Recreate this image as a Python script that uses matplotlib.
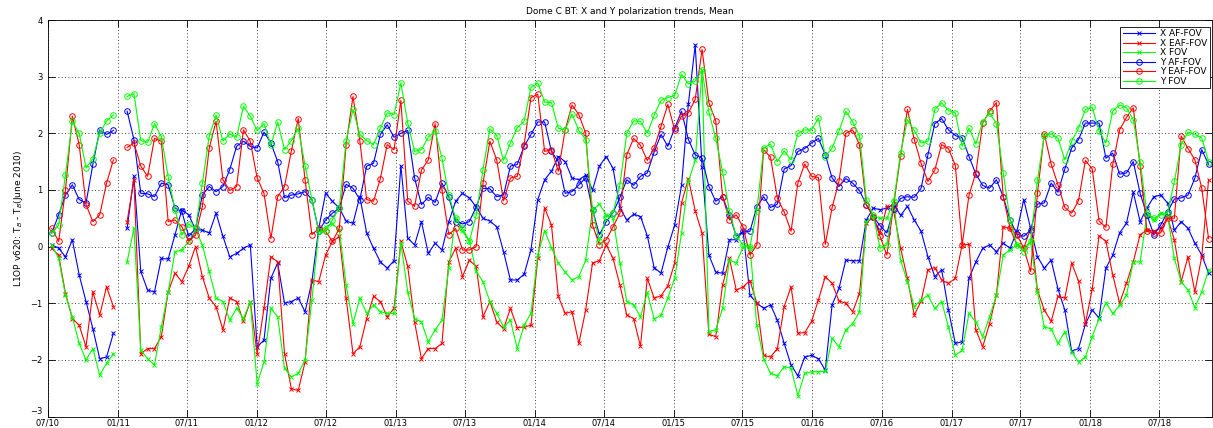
import numpy as np
import pandas as pd
import matplotlib
matplotlib.use('Agg')
import matplotlib.pyplot as plt
import matplotlib.dates as mdates

nan = np.nan

# sample dates (18-day sampling), value index 10 is missing
dates = pd.date_range('2010-07-11', periods=170, freq='18D')

x_af = [0.03, -0.03, -0.18, 0.12, -0.5, -0.97, -1.45, -1.98, -1.95, -1.53,
        nan,
        0.32, 1.24, -0.44, -0.77, -0.8, -0.21, -0.22, 0.21, 0.65, 0.56, 0.3,
        0.29, 0.24, 0.59, 0.18, -0.18, -0.12, -0.03, 0.03, -1.77, -1.65, -0.56, -0.29, -1.0, -0.97, -0.91, -1.15, -0.62, 0.32, 0.94, 0.8,
        0.68, 0.45, 0.41, 0.88, 0.24, -0.03, -0.27, -0.38, -0.25, 1.43, 0.15, 0.03, 0.44, -0.12, 0.06, -0.06, 0.44, 0.8, 0.94, 0.86, 0.7,
        0.5, 0.45, 0.35, -0.09, -0.59, -0.59, -0.49, -0.06, 0.83, 1.18, 1.33, 1.59, 1.5, 1.21, 1.18, 1.26, 1.0, 1.42, 1.59, 1.38,
        0.68, 0.47, 0.57, 0.53, 0.19, -0.37, -0.47, -0.01, 0.38, 1.08, 2.52, 3.56, 1.4, -0.15, -0.45, -0.47, 0.12, 0.12, 0.27, -0.86, -1.0,
        -1.09, -1.03, -1.3, -1.71, -2.09, -2.28, -1.95, -1.92, -1.98, -2.18, -1.03, -0.74, -0.24, -0.25, -0.25, 0.47, 0.68, 0.65, 0.68, 0.75, 0.55,
        0.71, 0.47, 0.27, -0.18, -0.53, -0.41, -1.12, -1.71, -1.68, -0.56, -0.27, -0.03, 0.03, -0.09, 0.06, -0.03, 0.27, 0.83, 0.32, -0.18,
        -0.38, -0.24, -0.75, -1.12, -1.85, -1.8, -1.37, -1.12, -1.26, -0.38, -0.15, 0.24, 0.41, 0.96, 0.44, 0.68, 0.88, 0.91, 0.77, 0.29, 0.44, 0.32, 0.06, -0.15, -0.47]

x_eaf = [-0.03, -0.15, -0.83, -1.27, -1.39, -1.77, -0.8, -1.21, -0.71, -1.06,
         nan,
         0.44, 1.18, -1.89, -1.8, -1.8, -1.59, -0.8, -0.47, -0.62, -0.35, 0.0,
         -0.53, -0.91, -1.06, -1.47, -0.91, -0.97, -1.32, -0.97, -1.89, -1.09, -0.18, -0.27, -1.89, -2.51, -2.54, -2.04, -0.59, -0.62, -0.15, 0.09,
         0.18, -0.91, -1.89, -1.77, -1.27, -0.88, -0.97, -1.24, -1.09, 0.09, -0.35, -1.33, -1.98, -1.8, -1.8, -1.71, -0.27, -0.03, -0.53, -0.24, -0.35,
         -1.24, -0.97, -1.33, -1.45, -1.09, -1.43, -1.42, -1.39, -0.21, 0.68, 0.38, -0.88, -1.18, -1.15, -1.71, -1.12, -0.29, -0.25, 0.03, -0.21,
         -0.68, -1.21, -1.27, -1.76, -0.56, -0.91, -0.87, -0.69, -0.29, 0.77, 1.2, 0.63, 0.24, -1.55, -1.59, -0.68, -0.21, -0.77, -0.71, -0.6, -1.0,
         -1.92, -1.95, -1.8, -1.06, -0.71, -1.53, -1.52, -1.32, -0.94, -0.53, -0.65, -0.96, -1.0, -1.15, -0.83, 0.41, 0.53, 0.24, 0.71, 0.62, -0.03,
         -0.56, -1.21, -0.96, -0.41, -0.37, -0.59, -0.65, -0.56, 0.03, 0.04, -1.47, -1.77, -1.36, -0.86, 0.35, 0.32, 0.03, -0.03, 0.32, -0.77,
         -1.12, -1.32, -0.88, -0.91, -0.29, -0.61, -1.36, -0.75, 0.19, 0.09, -0.5, -1.0, -0.65, -0.27, 0.21, 0.29, 0.27, 0.32, 0.51, 0.12, -0.62, -0.18, -0.8, -0.18, 1.18]

x_fov = [0.03, -0.21, -0.86, -1.24, -1.71, -2.0, -1.8, -2.27, -2.06, -1.89,
         nan,
         -0.27, 0.32, -1.83, -1.98, -2.09, -1.42, -0.8, -0.09, -0.06, 0.09, 0.3,
         0.03, -0.44, -0.91, -0.97, -1.3, -1.09, -1.27, -0.97, -2.42, -2.04, -1.09, -1.24, -2.15, -2.3, -2.24, -2.0, -0.94, 0.27, 0.35, 0.4,
         0.3, -0.68, -1.36, -0.91, -1.18, -1.03, -1.15, -1.18, -1.18, 0.06, -0.8, -1.27, -1.33, -1.68, -1.47, -1.3, -0.38, 0.5, 0.27, 0.1, -0.44,
         -0.62, -0.97, -1.18, -1.42, -1.3, -1.8, -1.39, -1.18, -0.15, 0.28, -0.02, -0.29, -0.45, -0.59, -0.53, -0.24, 0.65, 0.75, 0.56, 0.5,
         -0.29, -0.97, -1.03, -1.24, -0.81, -1.28, -1.21, -0.91, -0.56, 0.24, 1.15, 1.52, 3.11, -1.5, -1.47, -1.09, -0.24, -0.29, 0.0, 0.0, -1.39,
         -1.98, -2.24, -2.28, -2.12, -2.15, -2.63, -2.24, -2.21, -2.21, -2.2, -1.62, -1.77, -1.47, -1.36, -1.15, 0.44, 0.53, 0.5, 0.5, 0.8, -0.24,
         -0.62, -1.06, -0.94, -0.86, -1.09, -0.97, -1.42, -1.92, -1.83, -1.18, -1.33, -1.59, -1.24, -0.86, -0.15, -0.06, 0.03, -0.03, 0.09, -0.8,
         -1.42, -1.45, -1.71, -1.5, -1.86, -2.04, -1.95, -1.59, -1.27, -0.99, -1.18, -1.04, -0.86, -0.27, -0.27, 0.56, 0.47, 0.59, 0.56, -0.21, -0.62, -0.77, -1.08, -0.8, -0.41]

y_af = [0.24, 0.56, 0.91, 1.09, 0.83, 0.77, 1.45, 2.06, 1.98, 2.05,
        nan,
        2.39, 1.89, 0.94, 0.93, 0.88, 1.12, 1.09, 0.68, 0.62, 0.18, 0.32,
        0.91, 1.06, 0.97, 1.06, 1.36, 1.77, 1.86, 1.77, 1.74, 2.02, 1.83, 1.5, 0.86, 0.91, 0.93, 0.97, 0.83, 0.27, 0.47, 0.59,
        0.68, 1.1, 1.03, 0.83, 1.42, 1.47, 1.98, 2.15, 1.93, 2.0, 2.05, 1.21, 0.74, 0.87, 0.78, 1.12, 0.88, 0.44, 0.4, 0.44, 0.7,
        1.03, 1.02, 0.88, 0.91, 1.42, 1.45, 1.77, 1.98, 2.2, 2.2, 1.68, 1.5, 0.94, 0.97, 1.09, 1.21, 0.65, 0.21, 0.44, 0.6,
        0.87, 1.18, 1.08, 1.24, 1.3, 1.67, 1.98, 1.77, 2.09, 2.39, 1.89, 1.62, 1.56, 1.06, 0.8, 0.88, 0.56, 0.18, 0.27, 0.27, 0.7,
        0.88, 0.69, 0.75, 1.37, 1.43, 1.68, 1.73, 1.83, 1.91, 1.62, 1.21, 1.06, 1.2, 1.12, 0.99, 0.74, 0.53, 0.37, 0.24, 0.66, 0.85,
        0.88, 0.87, 1.03, 1.62, 2.17, 2.26, 2.06, 1.96, 1.92, 1.59, 1.28, 1.08, 1.03, 1.18, 0.88, 0.47, 0.22, 0.18, 0.29, 0.75,
        0.77, 1.12, 0.96, 1.37, 1.74, 1.89, 2.18, 2.18, 2.18, 1.56, 1.65, 1.28, 1.3, 1.5, 0.94, 0.56, 0.21, 0.38, 0.61, 0.84, 0.86, 0.91, 1.21, 1.71, 1.45]

y_eaf = [0.32, 0.09, 1.0, 2.3, 1.8, 0.74, 0.44, 0.56, 1.12, 1.53,
         nan,
         1.75, 1.83, 1.42, 1.24, 1.91, 1.86, 0.44, 0.47, 0.35, 0.1, 0.2,
         0.71, 1.74, 2.21, 1.18, 0.99, 1.06, 2.06, 1.86, 1.21, 0.94, 0.14, 0.88, 1.06, 1.69, 2.26, 1.18, 0.21, 0.32, 0.27, 0.09,
         0.32, 1.8, 2.65, 1.87, 0.83, 0.8, 1.2, 1.8, 1.71, 2.58, 0.8, 0.71, 1.35, 1.53, 2.17, 1.0, 0.21, 0.32, -0.06, -0.06, 0.0,
         1.12, 1.86, 1.53, 0.81, 1.21, 1.24, 1.8, 2.63, 2.69, 1.68, 1.71, 1.33, 2.06, 2.5, 2.33, 2.0, 0.38, 0.03, 0.12, 0.35,
         0.59, 1.62, 1.91, 1.79, 1.52, 1.74, 2.12, 2.51, 2.06, 2.3, 2.36, 2.6, 3.48, 2.54, 2.22, 0.88, 0.47, 0.56, 0.34, -0.15, 0.03,
         1.71, 1.58, 0.86, 0.61, 0.27, 1.12, 1.46, 1.24, 1.22, 0.04, 0.69, 1.15, 2.0, 2.06, 1.8, 0.74, 0.53, 0.18, -0.15, 0.74, 1.6,
         2.42, 1.89, 1.47, 1.15, 1.35, 1.8, 1.73, 1.43, 0.03, 0.91, 1.3, 2.18, 2.39, 2.54, 0.88, 0.32, 0.21, -0.03, -0.44, 0.94,
         1.99, 1.46, 1.09, 0.69, 0.59, 0.81, 1.52, 1.37, 0.45, 0.34, 1.45, 2.06, 2.28, 2.45, 1.42, 0.27, 0.24, 0.24, 0.5, 0.5, 1.95, 1.73, 1.53, 1.03, 0.14]

y_fov = [0.24, 0.38, 1.27, 2.21, 2.0, 1.39, 1.55, 2.0, 2.22, 2.32,
         nan,
         2.65, 2.7, 1.87, 1.84, 2.17, 1.94, 1.23, 0.65, 0.2, 0.4, 0.32,
         1.12, 1.95, 2.32, 1.86, 1.99, 1.93, 2.48, 2.3, 2.05, 2.17, 1.79, 2.2, 1.71, 1.87, 2.09, 1.43, 0.83, 0.27, 0.27, 0.47,
         0.68, 1.87, 2.42, 1.98, 1.87, 1.8, 2.09, 2.36, 2.33, 2.89, 2.18, 1.68, 1.71, 1.93, 2.04, 1.56, 0.91, 0.5, 0.32, 0.09, 0.55,
         1.36, 2.08, 1.96, 1.52, 1.83, 2.1, 2.21, 2.81, 2.89, 2.55, 2.54, 2.09, 2.06, 2.34, 2.05, 1.89, 0.65, 0.09, 0.53, 0.6,
         1.09, 2.0, 2.22, 2.21, 2.0, 2.32, 2.58, 2.63, 2.67, 3.04, 2.87, 2.92, 3.11, 2.37, 1.91, 1.32, 0.62, 0.18, 0.03, 0.0, 0.63,
         1.74, 1.81, 1.5, 1.69, 1.53, 2.0, 2.06, 2.06, 2.27, 1.59, 1.74, 2.04, 2.39, 2.2, 1.96, 0.83, 0.56, -0.03, 0.03, 0.8, 1.65,
         2.24, 2.05, 1.83, 1.86, 2.42, 2.54, 2.4, 2.36, 1.77, 2.09, 1.81, 2.2, 2.36, 2.17, 1.3, 0.47, 0.03, -0.09, 0.09, 1.18,
         1.96, 1.99, 1.91, 1.53, 1.86, 2.09, 2.42, 2.46, 2.04, 1.83, 2.39, 2.5, 2.45, 2.24, 1.5, 0.59, 0.5, 0.56, 0.59, 1.15, 1.8, 2.02, 1.98, 1.92, 1.5]

series = [
    ('X AF-FOV', x_af, '#0000ff', 'x'),
    ('X EAF-FOV', x_eaf, '#ff0000', 'x'),
    ('X FOV', x_fov, '#00ff00', 'x'),
    ('Y AF-FOV', y_af, '#0000ff', 'o'),
    ('Y EAF-FOV', y_eaf, '#ff0000', 'o'),
    ('Y FOV', y_fov, '#00ff00', 'o'),
]

plt.rcParams['font.family'] = ['DejaVu Sans']

fig = plt.figure(figsize=(12.13, 4.28), dpi=100)
ax = fig.add_axes([48 / 1213, 1 - 416.5 / 428, 1164 / 1213, 396.5 / 428])

for label, vals, col, mk in series:
    ax.plot(dates, vals, color=col, marker=mk, markersize=4 if mk == 'o' else 3.5,
            markerfacecolor='none', markeredgewidth=0.7, linewidth=0.8, label=label)

ax.set_xlim(pd.Timestamp('2010-07-01'), pd.Timestamp('2018-11-17'))
ax.set_ylim(-3, 4)

ticks = pd.date_range('2010-07-01', '2018-07-01', freq='6MS')
ax.set_xticks(ticks)
ax.xaxis.set_major_formatter(mdates.DateFormatter('%m/%y'))
ax.set_yticks(range(-3, 5))

ax.tick_params(direction='in', top=True, right=True, length=5, width=0.6,
               labelsize=6)
ax.tick_params(axis='x', pad=1.5)
ax.tick_params(axis='y', pad=4)
ax.grid(True, linestyle=(0, (1, 3)), color='k', linewidth=0.6)
for s in ax.spines.values():
    s.set_linewidth(0.6)

# keep the lowest y label clear of the first date label
ax.get_yticklabels()[0].set_verticalalignment('bottom')

ax.set_title('Dome C BT: X and Y polarization trends, Mean', fontsize=6.5, pad=4)
ax.set_ylabel('L1OP v620: T$_B$ - T$_B$(June 2010)', fontsize=6.5, labelpad=4)

leg = ax.legend(loc='upper right', bbox_to_anchor=(0.998, 0.983), borderaxespad=0,
                fontsize=6.5, handlelength=3.6, labelspacing=0.05, fancybox=False,
                framealpha=1, edgecolor='k', borderpad=0.3, handletextpad=0.5)
leg.get_frame().set_linewidth(0.6)

fig.savefig('out.png', dpi=100)
